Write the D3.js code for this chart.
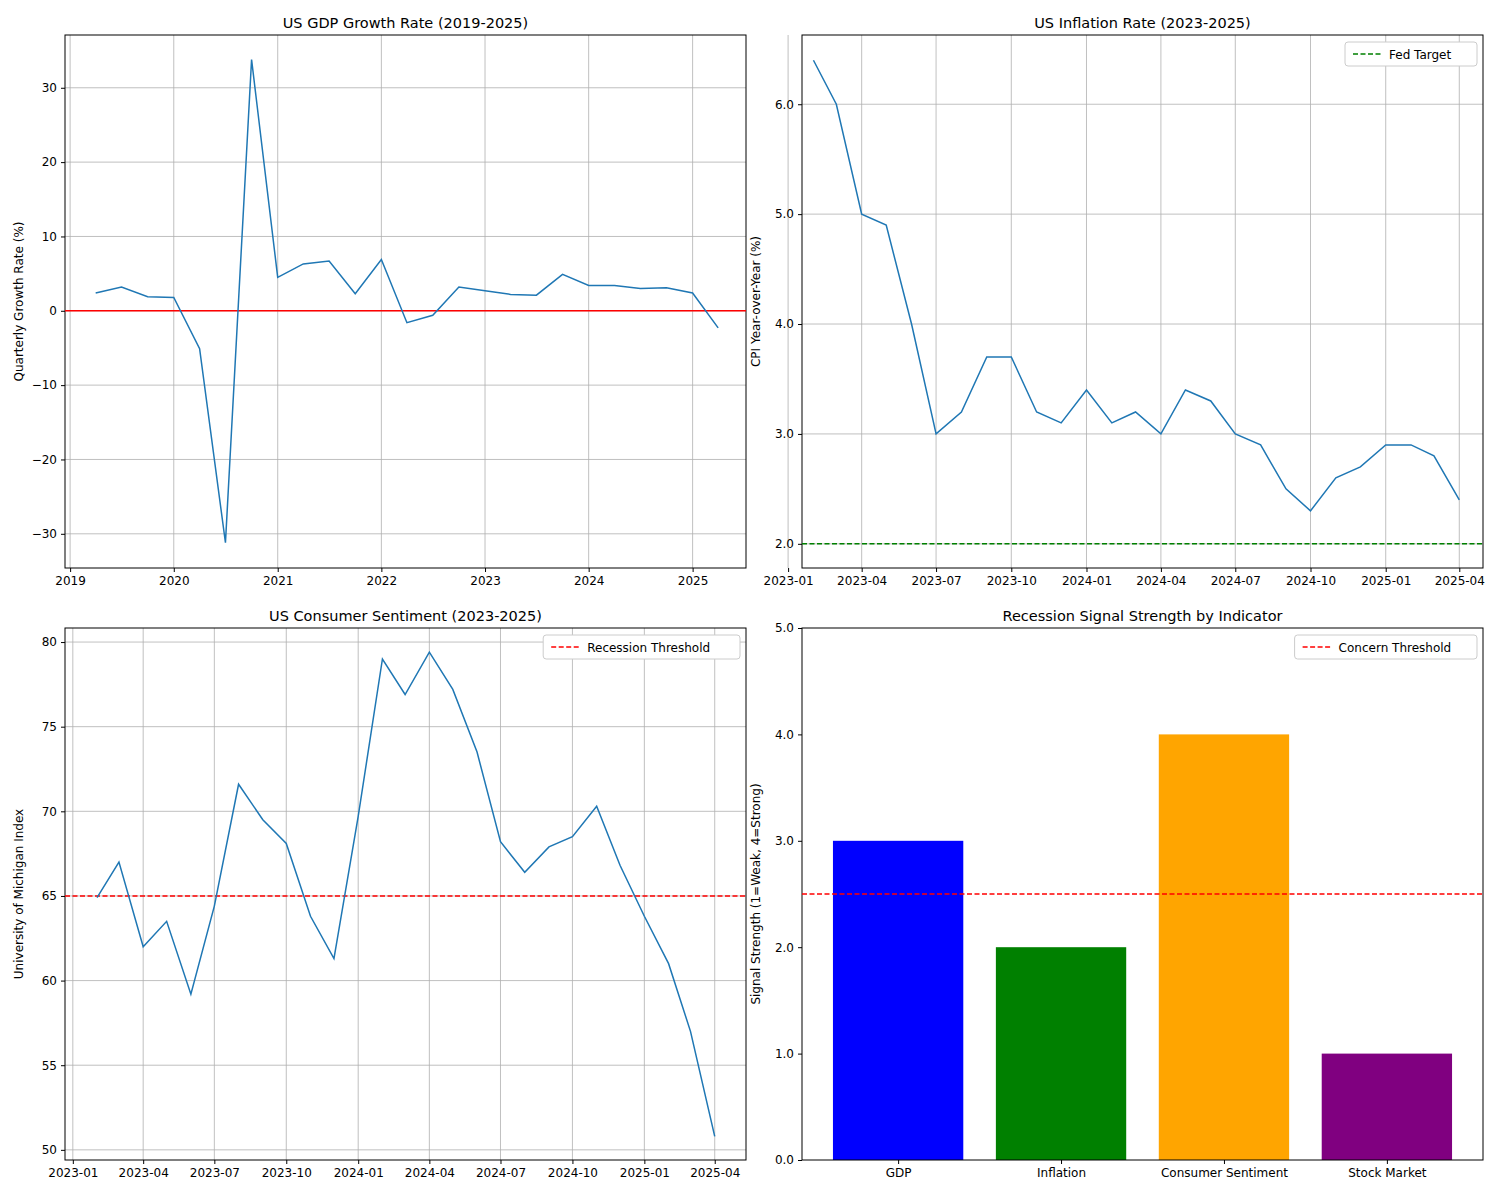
<!DOCTYPE html>
<html><head><meta charset="utf-8">
<script src="https://cdn.jsdelivr.net/npm/d3@7"></script>
<style>body{margin:0;background:#fff}text{font-family:"DejaVu Sans",sans-serif}</style>
</head><body><svg id="c" width="1500" height="1200"></svg>
<script>
const gdpDates=["2019-04-01","2019-07-01","2019-10-01","2020-01-01","2020-04-01","2020-07-01","2020-10-01","2021-01-01","2021-04-01","2021-07-01","2021-10-01","2022-01-01","2022-04-01","2022-07-01","2022-10-01","2023-01-01","2023-04-01","2023-07-01","2023-10-01","2024-01-01","2024-04-01","2024-07-01","2024-10-01","2025-01-01","2025-04-01"];
const gdpValues=[2.4,3.2,1.9,1.8,-5.1,-31.2,33.8,4.5,6.3,6.7,2.3,6.9,-1.6,-0.6,3.2,2.7,2.2,2.1,4.9,3.4,3.4,3.0,3.1,2.4,-2.3];
const monthDates=d3.timeMonths(new Date(2023,1,1),new Date(2025,4,1)).map(d=>d3.timeFormat("%Y-%m-%d")(d));
const cpiValues=[6.4,6.0,5.0,4.9,4.0,3.0,3.2,3.7,3.7,3.2,3.1,3.4,3.1,3.2,3.0,3.4,3.3,3.0,2.9,2.5,2.3,2.6,2.7,2.9,2.9,2.8,2.4];
const sentValues=[64.9,67.0,62.0,63.5,59.2,64.4,71.6,69.5,68.1,63.8,61.3,69.7,79.0,76.9,79.4,77.2,73.5,68.2,66.4,67.9,68.5,70.3,66.8,63.8,61.0,57.0,50.8];
const indicators=["GDP","Inflation","Consumer Sentiment","Stock Market"];
const signalValues=[3,2,4,1];
const barColors=["blue","green","orange","purple"];
const gdpYTicks=[-30,-20,-10,0,10,20,30];
const cpiYTicks=[2,3,4,5,6];
const sentYTicks=[50,55,60,65,70,75,80];
const barYTicks=[0,1,2,3,4,5];

const svg=d3.select("#c");
const P=d3.timeParse("%Y-%m-%d");
const blue="#1f77b4";
function panel(x0,y0,w,h,title,ylabel){
  const g=svg.append("g").attr("transform",`translate(${x0},${y0})`);
  g.append("text").attr("x",w/2).attr("y",-7).attr("text-anchor","middle").style("font-size","14.5px").text(title);
  g.append("text").attr("transform",`translate(-42,${h/2}) rotate(-90)`).attr("text-anchor","middle").style("font-size","12px").text(ylabel);
  return g;
}
function axes(g,x,y,w,h,xt,yt,fmt,grid){
  const gx=g.append("g").attr("transform",`translate(0,${h})`).call(d3.axisBottom(x).tickValues(xt).tickFormat(fmt).tickSize(4).tickPadding(4));
  const gy=g.append("g").call(d3.axisLeft(y).tickValues(yt).tickSize(4).tickPadding(4));
  [gx,gy].forEach(a=>{a.select(".domain").remove();a.selectAll("text").style("font-size","12px").style("font-family","DejaVu Sans");});
  if(grid){
    g.insert("g",":first-child").selectAll("line").data(xt).join("line").attr("x1",d=>x(d)).attr("x2",d=>x(d)).attr("y1",0).attr("y2",h).attr("stroke","#b0b0b0").attr("stroke-width",0.8);
  }
  if(grid!==null){
    g.insert("g",":first-child").selectAll("line").data(yt).join("line").attr("x1",0).attr("x2",w).attr("y1",d=>y(d)).attr("y2",d=>y(d)).attr("stroke","#b0b0b0").attr("stroke-width",0.8).attr("display",grid?null:"none");
  }
  g.append("rect").attr("width",w).attr("height",h).attr("fill","none").attr("stroke","#000").attr("stroke-width",1);
}
function legend(g,w,label,color){
  const lw=label.length*7.2+60;
  const lg=g.append("g").attr("transform",`translate(${w-6-lw},7)`);
  lg.append("rect").attr("width",lw).attr("height",24).attr("rx",3).attr("fill","#fff").attr("stroke","#ccc");
  lg.append("line").attr("x1",8).attr("x2",36).attr("y1",12).attr("y2",12).attr("stroke",color).attr("stroke-width",1.5).attr("stroke-dasharray","5,2.5");
  lg.append("text").attr("x",44).attr("y",16.5).style("font-size","12px").text(label);
}
const W=681,H=533;
// GDP
{
  const g=panel(65,35,W,H,"US GDP Growth Rate (2019-2025)","Quarterly Growth Rate (%)");
  const x=d3.scaleTime().domain([P("2018-12-14"),P("2025-07-08")]).range([0,W]);
  const y=d3.scaleLinear().domain([-34.6,37.1]).range([H,0]);
  const xt=d3.range(2019,2026).map(yr=>new Date(yr,0,1));
  axes(g,x,y,W,H,xt,gdpYTicks,d3.timeFormat("%Y"),true);
  g.append("line").attr("x1",0).attr("x2",W).attr("y1",y(0)).attr("y2",y(0)).attr("stroke","red").attr("stroke-width",1.5);
  g.append("path").datum(gdpDates.map((d,i)=>[P(d),gdpValues[i]])).attr("fill","none").attr("stroke",blue).attr("stroke-width",1.5)
   .attr("d",d3.line().x(d=>x(d[0])).y(d=>y(d[1])));
}
const qTicks=d3.timeMonths(new Date(2023,0,1),new Date(2025,4,2),3);
// CPI
{
  const g=panel(802,35,W,H,"US Inflation Rate (2023-2025)","CPI Year-over-Year (%)");
  g.select("text:nth-child(2)");
  const x=d3.scaleTime().domain([P("2023-01-18"),P("2025-04-30")]).range([0,W]);
  const y=d3.scaleLinear().domain([1.78,6.63]).range([H,0]);
  axes(g,x,y,W,H,qTicks,cpiYTicks,d3.timeFormat("%Y-%m"),true);
  g.append("line").attr("x1",0).attr("x2",W).attr("y1",y(2)).attr("y2",y(2)).attr("stroke","green").attr("stroke-width",1.5).attr("stroke-dasharray","5,2.5");
  g.append("path").datum(monthDates.map((d,i)=>[P(d),cpiValues[i]])).attr("fill","none").attr("stroke",blue).attr("stroke-width",1.5)
   .attr("d",d3.line().x(d=>x(d[0])).y(d=>y(d[1])));
  legend(g,W,"Fed Target","green");
}
// Sentiment
{
  const g=panel(65,628,W,532,"US Consumer Sentiment (2023-2025)","University of Michigan Index");
  const x=d3.scaleTime().domain([P("2022-12-22"),P("2025-05-11")]).range([0,W]);
  const y=d3.scaleLinear().domain([49.4,80.83]).range([532,0]);
  axes(g,x,y,W,532,qTicks,sentYTicks,d3.timeFormat("%Y-%m"),true);
  g.append("line").attr("x1",0).attr("x2",W).attr("y1",y(65)).attr("y2",y(65)).attr("stroke","red").attr("stroke-width",1.5).attr("stroke-dasharray","5,2.5");
  g.append("path").datum(monthDates.map((d,i)=>[P(d),sentValues[i]])).attr("fill","none").attr("stroke",blue).attr("stroke-width",1.5)
   .attr("d",d3.line().x(d=>x(d[0])).y(d=>y(d[1])));
  legend(g,W,"Recession Threshold","red");
}
// Bars
{
  const h=532;
  const g=panel(802,628,W,h,"Recession Signal Strength by Indicator","Signal Strength (1=Weak, 4=Strong)");
  const x=d3.scaleLinear().domain([-0.59,3.59]).range([0,W]);
  const y=d3.scaleLinear().domain([0,5]).range([h,0]);
  g.selectAll("rect.b").data(signalValues).join("rect").attr("class","b")
   .attr("x",(d,i)=>x(i-0.4)).attr("width",x(0.8)-x(0)).attr("y",d=>y(d)).attr("height",d=>h-y(d)).attr("fill",(d,i)=>barColors[i]);
  const gx=g.append("g").attr("transform",`translate(0,${h})`).call(d3.axisBottom(x).tickValues([0,1,2,3]).tickFormat(i=>indicators[i]).tickSize(4).tickPadding(4));
  const gy=g.append("g").call(d3.axisLeft(y).tickValues(barYTicks).tickSize(4).tickPadding(4));
  [gx,gy].forEach(a=>{a.select(".domain").remove();a.selectAll("text").style("font-size","12px").style("font-family","DejaVu Sans");});
  g.append("rect").attr("width",W).attr("height",h).attr("fill","none").attr("stroke","#000");
  g.append("line").attr("x1",0).attr("x2",W).attr("y1",y(2.5)).attr("y2",y(2.5)).attr("stroke","red").attr("stroke-width",1.5).attr("stroke-dasharray","5,2.5");
  legend(g,W,"Concern Threshold","red");
}
</script></body></html>
